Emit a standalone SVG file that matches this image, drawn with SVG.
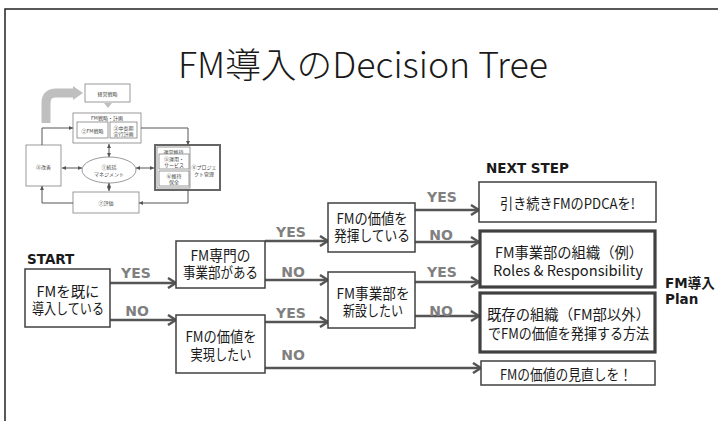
<svg xmlns="http://www.w3.org/2000/svg" width="718" height="421" viewBox="0 0 718 421">
<defs>
<style>
text{font-family:"Noto Sans CJK JP","Noto Sans",sans-serif;fill:#1a1a1a;text-anchor:middle;dominant-baseline:central}
.box{fill:#fff;stroke:#404040;stroke-width:1.5}
.tbox{fill:#fff;stroke:#404040;stroke-width:3.2}
.t{font-size:14.5px}
.lab{font-family:"DejaVu Sans","Noto Sans",sans-serif;font-weight:bold;font-size:14px;fill:#808080}
.hd{font-family:"DejaVu Sans","Noto Sans CJK JP",sans-serif;font-weight:bold;font-size:13.5px;text-anchor:start}
.ar{fill:none;stroke:#555;stroke-width:2.5;marker-end:url(#ah)}
.sb{fill:#fff;stroke:#808080;stroke-width:0.8}
.st{font-size:5px;fill:#444}
.sl{fill:none;stroke:#555;stroke-width:1;marker-end:url(#sa)}
.sd{fill:none;stroke:#555;stroke-width:1;marker-end:url(#sa);marker-start:url(#sa)}
</style>
<marker id="ah" viewBox="0 0 10 12" refX="9" refY="6" markerWidth="10" markerHeight="12" markerUnits="userSpaceOnUse" orient="auto">
<polyline points="1,1 9,6 1,11" fill="none" stroke="#555" stroke-width="2.5"/>
</marker>
<marker id="sa" viewBox="0 0 4 4" refX="4" refY="2" markerWidth="4" markerHeight="4" markerUnits="userSpaceOnUse" orient="auto-start-reverse">
<path d="M0,0 L4,2 L0,4 Z" fill="#555"/>
</marker>
</defs>
<rect width="718" height="421" fill="#fff"/>
<path d="M5,421 V9 H718" fill="none" stroke="#222" stroke-width="1.5"/>
<text x="363" y="62" style="font-size:35px;font-weight:300" textLength="370" lengthAdjust="spacingAndGlyphs">FM導入のDecision Tree</text>

<g id="mini">
<path d="M46,123 V103 Q46,93 56,93 H74" fill="none" stroke="#bfbfbf" stroke-width="9"/>
<polygon points="73,86 83,93 73,100" fill="#bfbfbf"/>
<polygon points="104,103 112,103 108,108" fill="#bfbfbf"/>
<rect x="85" y="84" width="45" height="18" class="sb"/>
<text x="107.5" y="93" class="st">経営戦略</text>
<rect x="73" y="113" width="68" height="30" class="sb"/>
<text x="107" y="117.5" class="st">FM戦略・計画</text>
<rect x="77" y="122" width="31" height="16" class="sb"/>
<text x="92.5" y="130" class="st">②FM戦略</text>
<rect x="110" y="122" width="27" height="16" class="sb"/>
<text x="123.5" y="127" class="st">③中長期</text>
<text x="123.5" y="133.5" class="st">実行計画</text>
<rect x="26" y="145" width="35" height="41" class="sb"/>
<text x="43.5" y="166" class="st">⑧改善</text>
<ellipse cx="109" cy="170" rx="27" ry="13" class="sb" stroke="#555"/>
<text x="109" y="166.5" class="st">①統括</text>
<text x="109" y="173.5" class="st">マネジメント</text>
<rect x="155" y="145" width="65" height="45" fill="#fff" stroke="#666" stroke-width="2"/>
<rect x="157" y="147" width="33" height="41" class="sb"/>
<text x="173.5" y="151" class="st">運営維持</text>
<rect x="159" y="154" width="30" height="15" class="sb"/>
<text x="174" y="158.5" class="st">⑤運用・</text>
<text x="174" y="164.5" class="st">サービス</text>
<rect x="159" y="171" width="30" height="15" class="sb"/>
<text x="174" y="175.5" class="st">⑥維持</text>
<text x="174" y="181.5" class="st">保全</text>
<text x="204" y="166.5" class="st">④プロジェ</text>
<text x="204" y="173.5" class="st">クト管理</text>
<rect x="73" y="192" width="66" height="21" class="sb"/>
<text x="106" y="202.5" class="st">⑦評価</text>
<path d="M42,145 V128 H73" class="sl"/>
<path d="M141,128 H188 V145" class="sl"/>
<path d="M188,190 V203 H139" class="sl"/>
<path d="M73,203 H42 V186" class="sl"/>
<path d="M109,144 V157" class="sd"/>
<path d="M109,183 V191" class="sd"/>
<path d="M62,168 H82" class="sd"/>
<path d="M136,168 H154" class="sd"/>
</g>

<g id="connectors">
<path d="M110,283 H176" class="ar"/>
<path d="M110,320 H176" class="ar"/>
<path d="M265,241 H328" class="ar"/>
<path d="M265,280 H328" class="ar"/>
<path d="M265,322 H328" class="ar"/>
<path d="M265,368 H481" class="ar"/>
<path d="M415,210 H479" class="ar"/>
<path d="M415,242 H479" class="ar"/>
<path d="M415,282 H479" class="ar"/>
<path d="M415,316 H479" class="ar"/>
<text x="136" y="273" class="lab">YES</text>
<text x="137" y="311" class="lab">NO</text>
<text x="291" y="232" class="lab">YES</text>
<text x="293" y="272" class="lab">NO</text>
<text x="291" y="313" class="lab">YES</text>
<text x="293" y="355" class="lab">NO</text>
<text x="442" y="197" class="lab">YES</text>
<text x="441" y="235" class="lab">NO</text>
<text x="442" y="272" class="lab">YES</text>
<text x="441" y="311" class="lab">NO</text>
</g>

<text x="27" y="259" class="hd">START</text>
<text x="486" y="168" class="hd">NEXT STEP</text>
<text x="665" y="283" class="hd">FM導入</text>
<text x="665" y="299" class="hd">Plan</text>

<g id="n_start">
<rect x="25" y="269" width="85" height="58" class="box"/>
<text x="68" y="290" class="t" textLength="63" lengthAdjust="spacingAndGlyphs">FMを既に</text>
<text x="68" y="307" class="t" textLength="72" lengthAdjust="spacingAndGlyphs">導入している</text>
</g>
<g id="n_senmon">
<rect x="176" y="241" width="89" height="47" class="box"/>
<text x="220.5" y="254" class="t" textLength="60" lengthAdjust="spacingAndGlyphs">FM専門の</text>
<text x="220.5" y="271" class="t" textLength="75" lengthAdjust="spacingAndGlyphs">事業部がある</text>
</g>
<g id="n_jitsugen">
<rect x="176" y="315" width="89" height="58" class="box"/>
<text x="221" y="335" class="t" textLength="71" lengthAdjust="spacingAndGlyphs">FMの価値を</text>
<text x="221" y="353" class="t" textLength="61" lengthAdjust="spacingAndGlyphs">実現したい</text>
</g>
<g id="n_hakki">
<rect x="328" y="203" width="87" height="49" class="box"/>
<text x="372" y="217" class="t" textLength="71" lengthAdjust="spacingAndGlyphs">FMの価値を</text>
<text x="372" y="234" class="t" textLength="76" lengthAdjust="spacingAndGlyphs">発揮している</text>
</g>
<g id="n_shinsetsu">
<rect x="328" y="272" width="87" height="56" class="box"/>
<text x="373" y="292" class="t" textLength="73" lengthAdjust="spacingAndGlyphs">FM事業部を</text>
<text x="373" y="309" class="t" textLength="60" lengthAdjust="spacingAndGlyphs">新設したい</text>
</g>
<g id="n_pdca">
<rect x="479" y="182" width="177" height="40" class="box"/>
<text x="567.5" y="202" class="t" textLength="135" lengthAdjust="spacingAndGlyphs">引き続きFMのPDCAを!</text>
</g>
<g id="n_soshiki">
<rect x="480" y="231" width="175" height="56" class="tbox"/>
<text x="569" y="251" class="t" textLength="148" lengthAdjust="spacingAndGlyphs">FM事業部の組織（例）</text>
<text x="568" y="269" class="t" textLength="150" lengthAdjust="spacingAndGlyphs">Roles &amp; Responsibility</text>
</g>
<g id="n_kizon">
<rect x="480" y="293" width="175" height="59" class="tbox"/>
<text x="568.5" y="313" class="t" textLength="163" lengthAdjust="spacingAndGlyphs">既存の組織（FM部以外）</text>
<text x="568.5" y="332" class="t" textLength="161" lengthAdjust="spacingAndGlyphs">でFMの価値を発揮する方法</text>
</g>
<g id="n_minaoshi">
<rect x="481" y="361" width="174" height="24" class="box"/>
<text x="566" y="373" class="t" textLength="132" lengthAdjust="spacingAndGlyphs">FMの価値の見直しを！</text>
</g>
</svg>
